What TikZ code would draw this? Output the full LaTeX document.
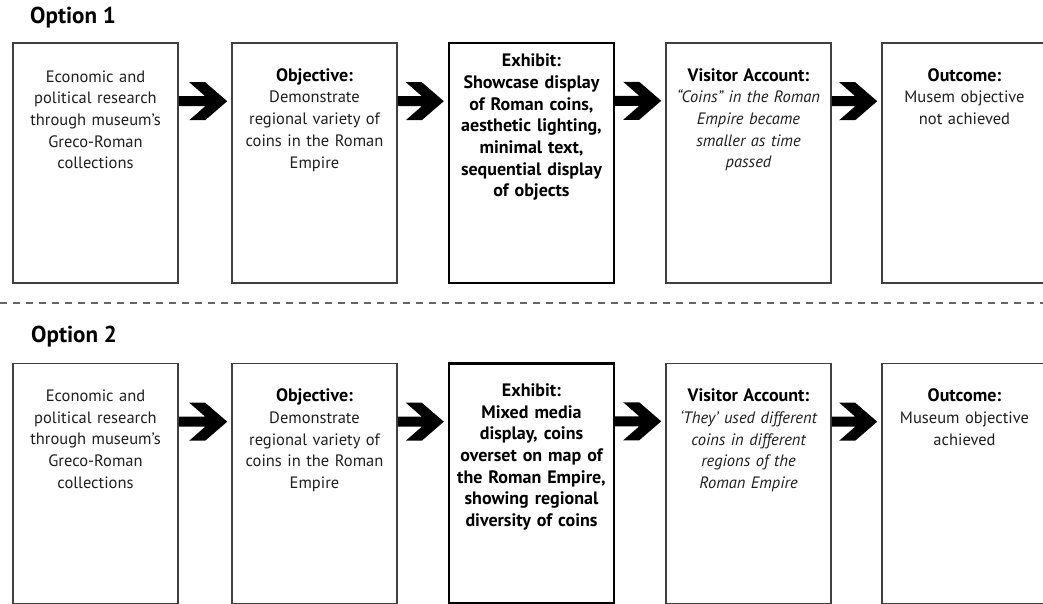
\documentclass[tikz,border=0pt]{standalone}
\usepackage{fontspec}
\setmainfont{PT Sans}
\usetikzlibrary{calc}

\tikzset{
  stage/.style={draw=black!75, line width=1.6pt, minimum width=165pt, minimum height=240pt, inner sep=0pt},
  keystage/.style={stage, draw=black, line width=2.4pt},
  stagetext/.style={anchor=north, align=center, text width=163pt, inner sep=0pt,
    text=black!88, font=\fontsize{16.5}{21.7}\selectfont},
  keytext/.style={stagetext, text=black, font=\fontsize{18}{21.7}\selectfont\bfseries},
  optlabel/.style={anchor=west, inner sep=0pt, font=\fontsize{23}{27}\selectfont\bfseries},
  flowarrow/.style={fill=black},
  divider/.style={draw=black!60, line width=1.8pt, dash pattern=on 7pt off 6pt}
}

% thick chevron arrow from the right side of one stage to the left side of the next
\newcommand\chevron[2]{%
  \fill[flowarrow] let \p1=(#1.north east), \p2=(#2.west), \n1={\y1-59pt} in
    (\x1,\n1+5pt) -- (\x2-26pt,\n1+5pt) -- (\x2-42pt,\n1+19pt) -- (\x2-26pt,\n1+19pt)
    -- (\x2-4pt,\n1) -- (\x2-26pt,\n1-19pt) -- (\x2-42pt,\n1-19pt) -- (\x2-26pt,\n1-5pt)
    -- (\x1,\n1-5pt) -- cycle;}

% bold heading line inside a stage
\newcommand\hd[1]{{\fontsize{18}{21.7}\selectfont\bfseries\color{black}#1}}

\begin{document}
\begin{tikzpicture}[x=1pt,y=1pt]
\useasboundingbox[fill=white] (0,0) rectangle (1043,-604);

% ---------- Option 1 ----------
\node[optlabel] (opt1) at (30,-18) {Option 1};

\node[stage]    (a1) at (95.5,-163) {};
\node[stage]    (a2) at (314.5,-163) {};
\node[keystage] (a3) at (531.5,-163) {};
\node[stage]    (a4) at (748.5,-163) {};
\node[stage]    (a5) at (964.5,-163) {};

\node[stagetext] (ta1) at ($(a1.north)+(0,-28)$) {Economic and\\political research\\through museum’s\\Greco-Roman\\collections};
\node[stagetext] (ta2) at ($(a2.north)+(0,-26)$) {\hd{Objective:}\\Demonstrate\\regional variety of\\coins in the Roman\\Empire};
\node[keytext]   (ta3) at ($(a3.north)+(0,-12)$) {Exhibit:\\Showcase display\\of Roman coins,\\aesthetic lighting,\\minimal text,\\sequential display\\of objects};
\node[stagetext] (ta4) at ($(a4.north)+(0,-26)$) {\hd{Visitor Account:}\\\itshape “Coins” in the Roman\\\itshape Empire became\\\itshape smaller as time\\\itshape passed};
\node[stagetext] (ta5) at ($(a5.north)+(0,-26)$) {\hd{Outcome:}\\Musem objective\\not achieved};

\chevron{a1}{a2}
\chevron{a2}{a3}
\chevron{a3}{a4}
\chevron{a4}{a5}

% ---------- divider ----------
\coordinate (dl) at (0,-303);
\coordinate (dr) at (1043,-303);
\draw[divider] (dl) -- (dr);

% ---------- Option 2 ----------
\node[optlabel] (opt2) at (31,-337) {Option 2};

\node[stage]    (b1) at (95.5,-483.5) {};
\node[stage]    (b2) at (314.5,-483.5) {};
\node[keystage] (b3) at (531.5,-483.5) {};
\node[stage]    (b4) at (748.5,-483.5) {};
\node[stage]    (b5) at (964.5,-483.5) {};

\node[stagetext] (tb1) at ($(b1.north)+(0,-27)$) {Economic and\\political research\\through museum’s\\Greco-Roman\\collections};
\node[stagetext] (tb2) at ($(b2.north)+(0,-26)$) {\hd{Objective:}\\Demonstrate\\regional variety of\\coins in the Roman\\Empire};
\node[keytext]   (tb3) at ($(b3.north)+(0,-21)$) {Exhibit:\\Mixed media\\display, coins\\overset on map of\\the Roman Empire,\\showing regional\\diversity of coins};
\node[stagetext] (tb4) at ($(b4.north)+(0,-26)$) {\hd{Visitor Account:}\\\itshape ‘They’ used different\\\itshape coins in different\\\itshape regions of the\\\itshape Roman Empire};
\node[stagetext] (tb5) at ($(b5.north)+(0,-26)$) {\hd{Outcome:}\\Museum objective\\achieved};

\chevron{b1}{b2}
\chevron{b2}{b3}
\chevron{b3}{b4}
\chevron{b4}{b5}
\end{tikzpicture}
\end{document}
